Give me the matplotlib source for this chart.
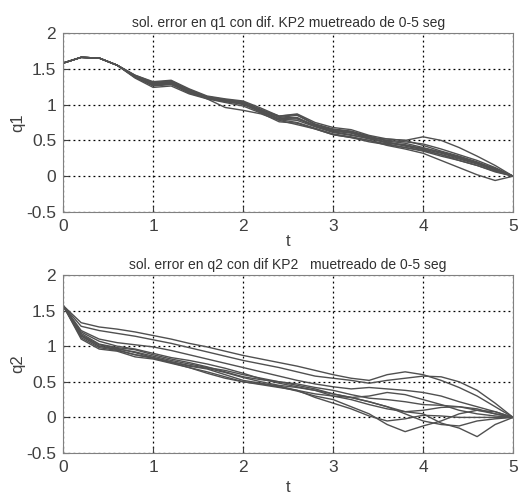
import matplotlib.pyplot as plt

plt.rcParams['font.family'] = ['Liberation Sans', 'DejaVu Sans']

# sample instants (s)
t = [0.0, 0.2, 0.4, 0.6, 0.8, 1.0, 1.2, 1.4, 1.6, 1.8, 2.0, 2.2, 2.4,
     2.6, 2.8, 3.0, 3.2, 3.4, 3.6, 3.8, 4.0, 4.2, 4.4, 4.6, 4.8, 5.0]

# q1 error for each KP2 value
q1_runs = [
    [1.58, 1.66, 1.65, 1.55, 1.40, 1.30, 1.32, 1.20, 1.10, 1.06, 1.03, 0.92, 0.82, 0.85, 0.72, 0.65, 0.62, 0.55, 0.50, 0.48, 0.45, 0.38, 0.30, 0.22, 0.12, 0.00],
    [1.58, 1.66, 1.65, 1.55, 1.41, 1.32, 1.34, 1.22, 1.12, 1.08, 1.05, 0.95, 0.84, 0.87, 0.75, 0.68, 0.65, 0.57, 0.52, 0.50, 0.43, 0.35, 0.28, 0.20, 0.10, 0.00],
    [1.58, 1.66, 1.65, 1.55, 1.38, 1.26, 1.28, 1.17, 1.09, 1.05, 1.00, 0.90, 0.80, 0.82, 0.70, 0.62, 0.58, 0.52, 0.47, 0.44, 0.38, 0.32, 0.25, 0.18, 0.10, 0.00],
    [1.58, 1.66, 1.65, 1.55, 1.37, 1.24, 1.26, 1.15, 1.08, 1.03, 0.98, 0.88, 0.76, 0.74, 0.66, 0.58, 0.54, 0.50, 0.45, 0.40, 0.35, 0.28, 0.22, 0.15, 0.07, 0.00],
    [1.58, 1.66, 1.65, 1.55, 1.40, 1.28, 1.30, 1.18, 1.08, 0.96, 0.92, 0.87, 0.78, 0.72, 0.66, 0.58, 0.54, 0.48, 0.44, 0.40, 0.36, 0.30, 0.22, 0.15, 0.06, 0.00],
    [1.58, 1.66, 1.65, 1.55, 1.39, 1.29, 1.31, 1.19, 1.10, 1.05, 1.02, 0.90, 0.80, 0.80, 0.70, 0.63, 0.60, 0.53, 0.52, 0.50, 0.55, 0.50, 0.40, 0.28, 0.15, 0.00],
    [1.58, 1.66, 1.65, 1.55, 1.39, 1.27, 1.29, 1.16, 1.09, 1.04, 1.01, 0.89, 0.79, 0.75, 0.67, 0.59, 0.55, 0.50, 0.43, 0.38, 0.32, 0.22, 0.12, 0.02, -0.06, 0.00],
    [1.58, 1.66, 1.65, 1.55, 1.41, 1.31, 1.33, 1.21, 1.11, 1.07, 1.04, 0.93, 0.84, 0.86, 0.73, 0.66, 0.63, 0.56, 0.49, 0.46, 0.40, 0.33, 0.26, 0.18, 0.09, 0.00],
    [1.58, 1.66, 1.65, 1.55, 1.38, 1.27, 1.29, 1.18, 1.10, 1.06, 1.02, 0.91, 0.80, 0.78, 0.69, 0.61, 0.57, 0.53, 0.48, 0.42, 0.37, 0.30, 0.24, 0.17, 0.08, 0.00],
    [1.58, 1.66, 1.65, 1.55, 1.40, 1.30, 1.31, 1.19, 1.11, 1.07, 1.03, 0.93, 0.83, 0.81, 0.71, 0.64, 0.61, 0.54, 0.46, 0.43, 0.39, 0.34, 0.27, 0.19, 0.11, 0.00],
]

# q2 error for each KP2 value
q2_runs = [
    [1.57, 1.33, 1.27, 1.24, 1.20, 1.15, 1.10, 1.04, 0.99, 0.93, 0.87, 0.82, 0.77, 0.72, 0.66, 0.60, 0.55, 0.52, 0.60, 0.64, 0.60, 0.52, 0.42, 0.30, 0.15, 0.00],
    [1.57, 1.28, 1.22, 1.18, 1.14, 1.09, 1.04, 0.98, 0.92, 0.86, 0.80, 0.75, 0.70, 0.64, 0.58, 0.55, 0.52, 0.48, 0.52, 0.55, 0.58, 0.57, 0.50, 0.38, 0.20, 0.00],
    [1.57, 1.22, 1.10, 1.05, 1.02, 0.99, 0.94, 0.88, 0.82, 0.76, 0.70, 0.64, 0.58, 0.52, 0.47, 0.43, 0.40, 0.42, 0.40, 0.38, 0.35, 0.30, 0.22, 0.15, 0.08, 0.00],
    [1.57, 1.18, 1.03, 0.98, 0.95, 0.88, 0.82, 0.77, 0.71, 0.64, 0.57, 0.53, 0.50, 0.47, 0.42, 0.38, 0.32, 0.27, 0.25, 0.22, 0.18, 0.17, 0.15, 0.10, 0.05, 0.00],
    [1.57, 1.15, 1.00, 0.96, 0.92, 0.86, 0.80, 0.75, 0.70, 0.66, 0.60, 0.55, 0.50, 0.45, 0.40, 0.33, 0.28, 0.30, 0.35, 0.32, 0.25, 0.18, 0.10, 0.05, 0.02, 0.00],
    [1.57, 1.20, 1.07, 1.00, 0.96, 0.90, 0.84, 0.80, 0.75, 0.69, 0.62, 0.54, 0.48, 0.43, 0.38, 0.30, 0.25, 0.18, 0.12, 0.08, 0.10, 0.14, 0.15, 0.12, 0.05, 0.00],
    [1.57, 1.12, 0.98, 0.94, 0.88, 0.84, 0.78, 0.72, 0.68, 0.60, 0.52, 0.48, 0.44, 0.38, 0.28, 0.20, 0.12, 0.02, -0.05, -0.02, 0.03, 0.02, 0.00, 0.00, 0.00, 0.00],
    [1.57, 1.14, 1.00, 0.95, 0.88, 0.83, 0.77, 0.70, 0.62, 0.55, 0.50, 0.47, 0.43, 0.37, 0.30, 0.25, 0.15, 0.05, -0.10, -0.20, -0.12, -0.05, 0.05, 0.10, 0.08, 0.00],
    [1.57, 1.16, 1.02, 0.97, 0.91, 0.84, 0.78, 0.73, 0.69, 0.63, 0.56, 0.50, 0.45, 0.42, 0.38, 0.33, 0.28, 0.22, 0.15, 0.05, -0.05, -0.10, -0.12, -0.05, -0.02, 0.00],
    [1.57, 1.10, 0.96, 0.93, 0.85, 0.82, 0.76, 0.70, 0.64, 0.57, 0.50, 0.46, 0.42, 0.38, 0.33, 0.30, 0.28, 0.22, 0.15, 0.08, 0.05, -0.08, -0.15, -0.27, -0.10, 0.00],
]

titles = ['sol. error en q1 con dif. KP2 muetreado de 0-5 seg',
          'sol. error en q2 con dif KP2   muetreado de 0-5 seg']
ylabels = ['q1', 'q2']
xlabel_pads = [0, 4]

fig = plt.figure(figsize=(5.22, 5.0), dpi=100)
ax1 = fig.add_axes([0.121, 0.576, 0.862, 0.358])
ax2 = fig.add_axes([0.121, 0.094, 0.862, 0.356])

for ax, runs, title, ylab, xpad in zip([ax1, ax2], [q1_runs, q2_runs], titles, ylabels, xlabel_pads):
    for run in runs:
        ax.plot(t, run, color='#505050', lw=1.0)
    ax.set_xlim(0, 5)
    ax.set_ylim(-0.5, 2)
    ax.set_xticks([0, 1, 2, 3, 4, 5])
    ax.set_yticks([-0.5, 0, 0.5, 1, 1.5, 2])
    ax.set_yticklabels(['-0.5', '0', '0.5', '1', '1.5', '2'])
    ax.grid(True, color='black', linestyle=(0, (1.5, 2.5)), lw=0.9)
    ax.tick_params(direction='in', labelsize=12.5, colors='#404040', length=4, pad=5)
    for s in ax.spines.values():
        s.set_color('#808080')
    ax.set_title(title, fontsize=10, color='#303030', pad=4)
    ax.set_xlabel('t', fontsize=12, color='#404040', labelpad=xpad)
    ax.set_ylabel(ylab, fontsize=12, color='#404040', labelpad=1)

fig.savefig('out.png', dpi=100)
